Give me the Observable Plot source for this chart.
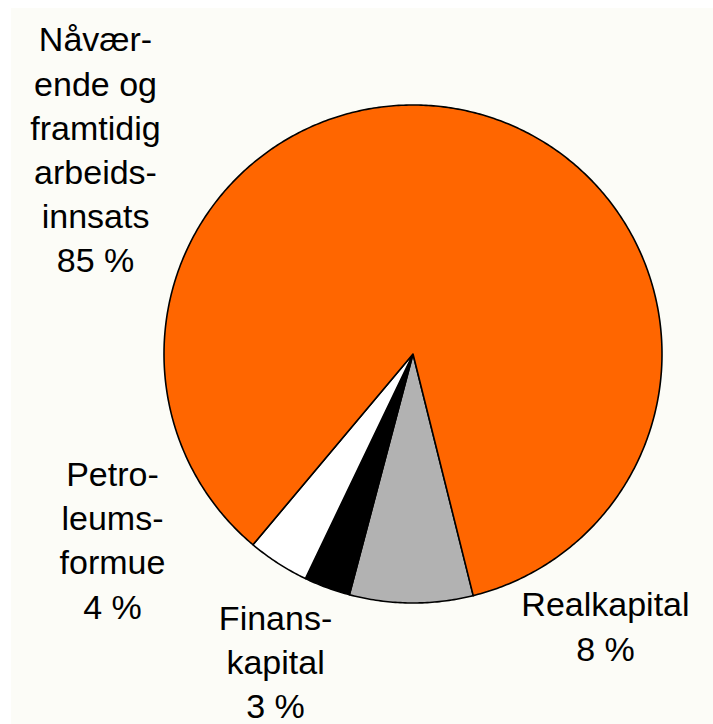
<!DOCTYPE html>
<html>
<head>
<meta charset="utf-8">
<script src="https://cdn.jsdelivr.net/npm/d3@7"></script>
<script src="https://cdn.jsdelivr.net/npm/@observablehq/plot@0.6"></script>
<style>
  html, body { margin: 0; padding: 0; background: #ffffff; }
  body { width: 713px; height: 724px; position: relative; overflow: hidden; }
  #bg { position: absolute; left: 11px; top: 8px; right: 0; bottom: 0; background: #fcfcf7; }
  #chart { position: absolute; left: 0; top: 0; }
  #chart svg { background: transparent; }
</style>
</head>
<body>
<div id="bg"></div>
<div id="chart"></div>
<script>
// Data
const categories = ["Realkapital", "Finanskapital", "Petroleumsformue", "Nåværende og framtidig arbeidsinnsats"];
const shares = [8, 3, 4, 85];
const labels = ["Realkapital\n8 %", "Finans-\nkapital\n3 %", "Petro-\nleums-\nformue\n4 %", "Nåvær-\nende og\nframtidig\narbeids-\ninnsats\n85 %"];
const colors = ["#b2b2b2", "#000000", "#ffffff", "#ff6600"];

// Layout (label anchors in pie-radius units, not data)
const labelPos = [[0.773, -0.928], [-0.552, -0.982], [-1.207, -0.404], [-1.275, 1.341]];

const start = 166 * Math.PI / 180;
const arcs = d3.pie().sort(null).value(d => d.v).startAngle(start).endAngle(start + 2 * Math.PI)(
  categories.map((c, i) => ({c, v: shares[i]}))
);

const pts = [];
arcs.forEach((a, i) => {
  const n = Math.max(2, Math.ceil((a.endAngle - a.startAngle) / 0.01));
  pts.push({k: categories[i], x: 0, y: 0});
  for (let j = 0; j <= n; j++) {
    const t = a.startAngle + (a.endAngle - a.startAngle) * j / n;
    pts.push({k: categories[i], x: Math.sin(t), y: Math.cos(t)});
  }
  pts.push({k: categories[i], x: 0, y: 0});
});

const labelData = categories.map((c, i) => ({k: c, text: labels[i], x: labelPos[i][0], y: labelPos[i][1]}));

const R = 249, cx = 412.5, cy = 353.5;
const plot = Plot.plot({
  width: 713,
  height: 724,
  margin: 0,
  style: {background: "transparent", overflow: "visible"},
  x: {domain: [-1, 1], range: [cx - R, cx + R], axis: null},
  y: {domain: [-1, 1], range: [cy + R, cy - R], axis: null},
  color: {domain: categories, range: colors},
  marks: [
    Plot.line(pts, {x: "x", y: "y", z: "k", fill: "k", stroke: "#000", strokeWidth: 1.6, strokeLinejoin: "round", curve: "linear"}),
    Plot.text(labelData, {
      x: "x", y: "y", text: "text",
      lineAnchor: "top", textAnchor: "middle", lineHeight: 1.3,
      fontSize: 34, fontFamily: "Liberation Sans, Arial, sans-serif", fill: "#000"
    })
  ]
});
document.getElementById("chart").appendChild(plot);
</script>
</body>
</html>
